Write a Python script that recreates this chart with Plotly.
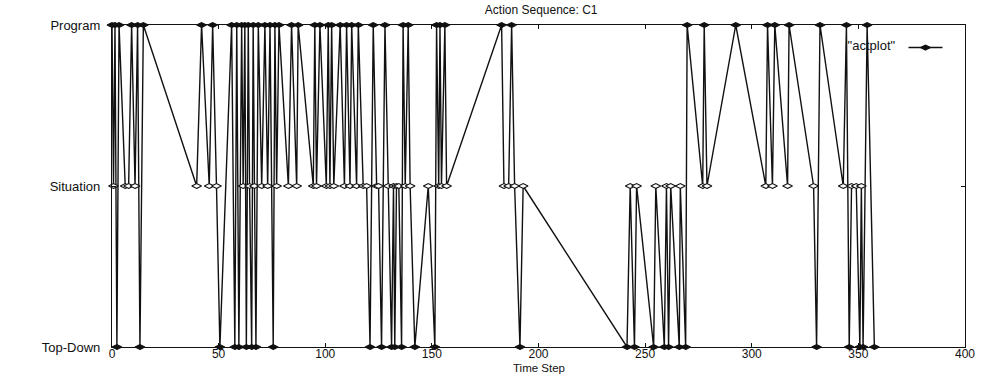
import plotly.graph_objects as go

# Action levels, bottom to top
levels = ["Top-Down", "Situation", "Program"]

# Time step of each recorded action
time_steps = [
    0, 0.7, 1.4, 2.3, 3.3, 6.2, 7.8, 9.2, 10.8, 12.0, 13.1, 14.7,
    39.7, 42, 45.6, 47.2, 49, 50.6, 56.1, 57.6, 58.5, 59.5, 60.8, 61.5,
    62.3, 63, 63.9, 64.5, 65.5, 66.2, 66.8, 67.5, 68.6, 70.2, 71.7, 73,
    74.1, 75.6, 76.4, 77.2, 78.3, 82.7, 84.2, 86.6, 87.3, 94.4, 95.1, 95.9,
    97.5, 100.5, 101.4, 102.2, 103, 104, 107, 109, 110, 111.6, 112.4, 114.7,
    115.5, 117.8, 119.4, 121, 122.5, 124.1, 125, 126.4, 128, 129.5, 131.1, 132,
    132.6, 133.4, 134.5, 135.8, 136.5, 137.5, 138.9, 139.8, 142, 148.3, 151.4, 152.2,
    153.2, 153.8, 154.5, 156.1, 156.9, 182.7, 183.8, 186, 187.4, 188.8, 191.3, 192.8,
    241.5, 243, 245, 246, 254, 255, 259, 260, 261, 262, 266, 266.5,
    269, 269.7, 277, 277.7, 279, 292.5, 306.6, 307.4, 309.7, 310.8, 316.8, 317.5,
    329, 330.4, 332, 342.9, 344.4, 345.7, 346.8, 349, 350.7, 351.4, 352.2, 354.1,
    357.5,
]

# Action chosen at each of those steps
actions = [
    "Program", "Situation", "Program", "Top-Down", "Program", "Situation", "Situation", "Program", "Situation", "Program", "Top-Down", "Program",
    "Situation", "Program", "Situation", "Program", "Situation", "Top-Down", "Program", "Top-Down", "Program", "Top-Down", "Program", "Situation",
    "Program", "Top-Down", "Program", "Situation", "Top-Down", "Program", "Situation", "Top-Down", "Program", "Situation", "Program", "Situation",
    "Program", "Top-Down", "Program", "Situation", "Program", "Situation", "Program", "Situation", "Program", "Situation", "Program", "Situation",
    "Program", "Situation", "Program", "Situation", "Program", "Situation", "Program", "Situation", "Program", "Situation", "Program", "Situation",
    "Program", "Situation", "Situation", "Top-Down", "Program", "Situation", "Situation", "Top-Down", "Program", "Situation", "Top-Down", "Situation",
    "Top-Down", "Situation", "Situation", "Top-Down", "Program", "Situation", "Program", "Situation", "Top-Down", "Situation", "Top-Down", "Program",
    "Situation", "Program", "Situation", "Program", "Situation", "Program", "Situation", "Situation", "Program", "Situation", "Top-Down", "Situation",
    "Top-Down", "Situation", "Top-Down", "Situation", "Top-Down", "Situation", "Top-Down", "Situation", "Top-Down", "Situation", "Top-Down", "Situation",
    "Top-Down", "Program", "Situation", "Program", "Situation", "Program", "Situation", "Program", "Situation", "Program", "Situation", "Program",
    "Situation", "Top-Down", "Program", "Situation", "Program", "Top-Down", "Situation", "Situation", "Top-Down", "Situation", "Top-Down", "Program",
    "Top-Down",
]

x_ticks = [0, 50, 100, 150, 200, 250, 300, 350, 400]

level_index = [levels.index(a) for a in actions]
# open diamonds show on the middle row; on the frame rows they read as dots
marker_fill = ["white" if a == "Situation" else "#111111" for a in actions]

FONT = "Liberation Sans, Arial, sans-serif"
INK = "#111111"

fig = go.Figure()
fig.add_trace(go.Scatter(
    x=time_steps,
    y=level_index,
    mode="lines+markers",
    name=" ",
    line=dict(color=INK, width=1.4),
    marker=dict(symbol="diamond-wide", size=7, color=marker_fill,
                line=dict(color=INK, width=1.2)),
    cliponaxis=False,
))

fig.update_layout(
    width=993,
    height=376,
    margin=dict(l=112, r=28, t=25, b=29),
    paper_bgcolor="white",
    plot_bgcolor="white",
    font=dict(family=FONT, size=12, color=INK),
    title=dict(text="Action Sequence: C1", x=0.545, xanchor="center",
               y=0.985, yanchor="top", font=dict(size=12)),
    showlegend=True,
    legend=dict(
        x=0.86, y=0.975, xanchor="left", yanchor="top",
        bgcolor="rgba(0,0,0,0)",
        title=dict(text='"actplot"', side="left", font=dict(size=13)),
        font=dict(size=12),
        itemwidth=34,
    ),
    xaxis=dict(
        range=[0, 400],
        tickvals=x_ticks,
        ticktext=[str(v) for v in x_ticks],
        ticks="inside", ticklen=4, tickcolor=INK,
        showline=True, linecolor=INK, linewidth=1.3, mirror="ticks",
        showgrid=False, zeroline=False,
        tickfont=dict(size=12),
        ticklabelstandoff=-5,
        automargin=False,
    ),
    yaxis=dict(
        range=[0, 2],
        tickvals=[0, 1, 2],
        ticktext=levels,
        ticks="inside", ticklen=4, tickcolor=INK,
        showline=True, linecolor=INK, linewidth=1.3, mirror="ticks",
        showgrid=False, zeroline=False,
        tickfont=dict(size=13),
        ticklabelstandoff=8,
        automargin=False,
    ),
    annotations=[
        dict(text="Time Step", x=0.5, xref="paper", y=0, yref="paper",
             yshift=-29, xanchor="center", yanchor="bottom", showarrow=False,
             font=dict(size=11.5)),
    ],
)

fig.write_html("out.html")
